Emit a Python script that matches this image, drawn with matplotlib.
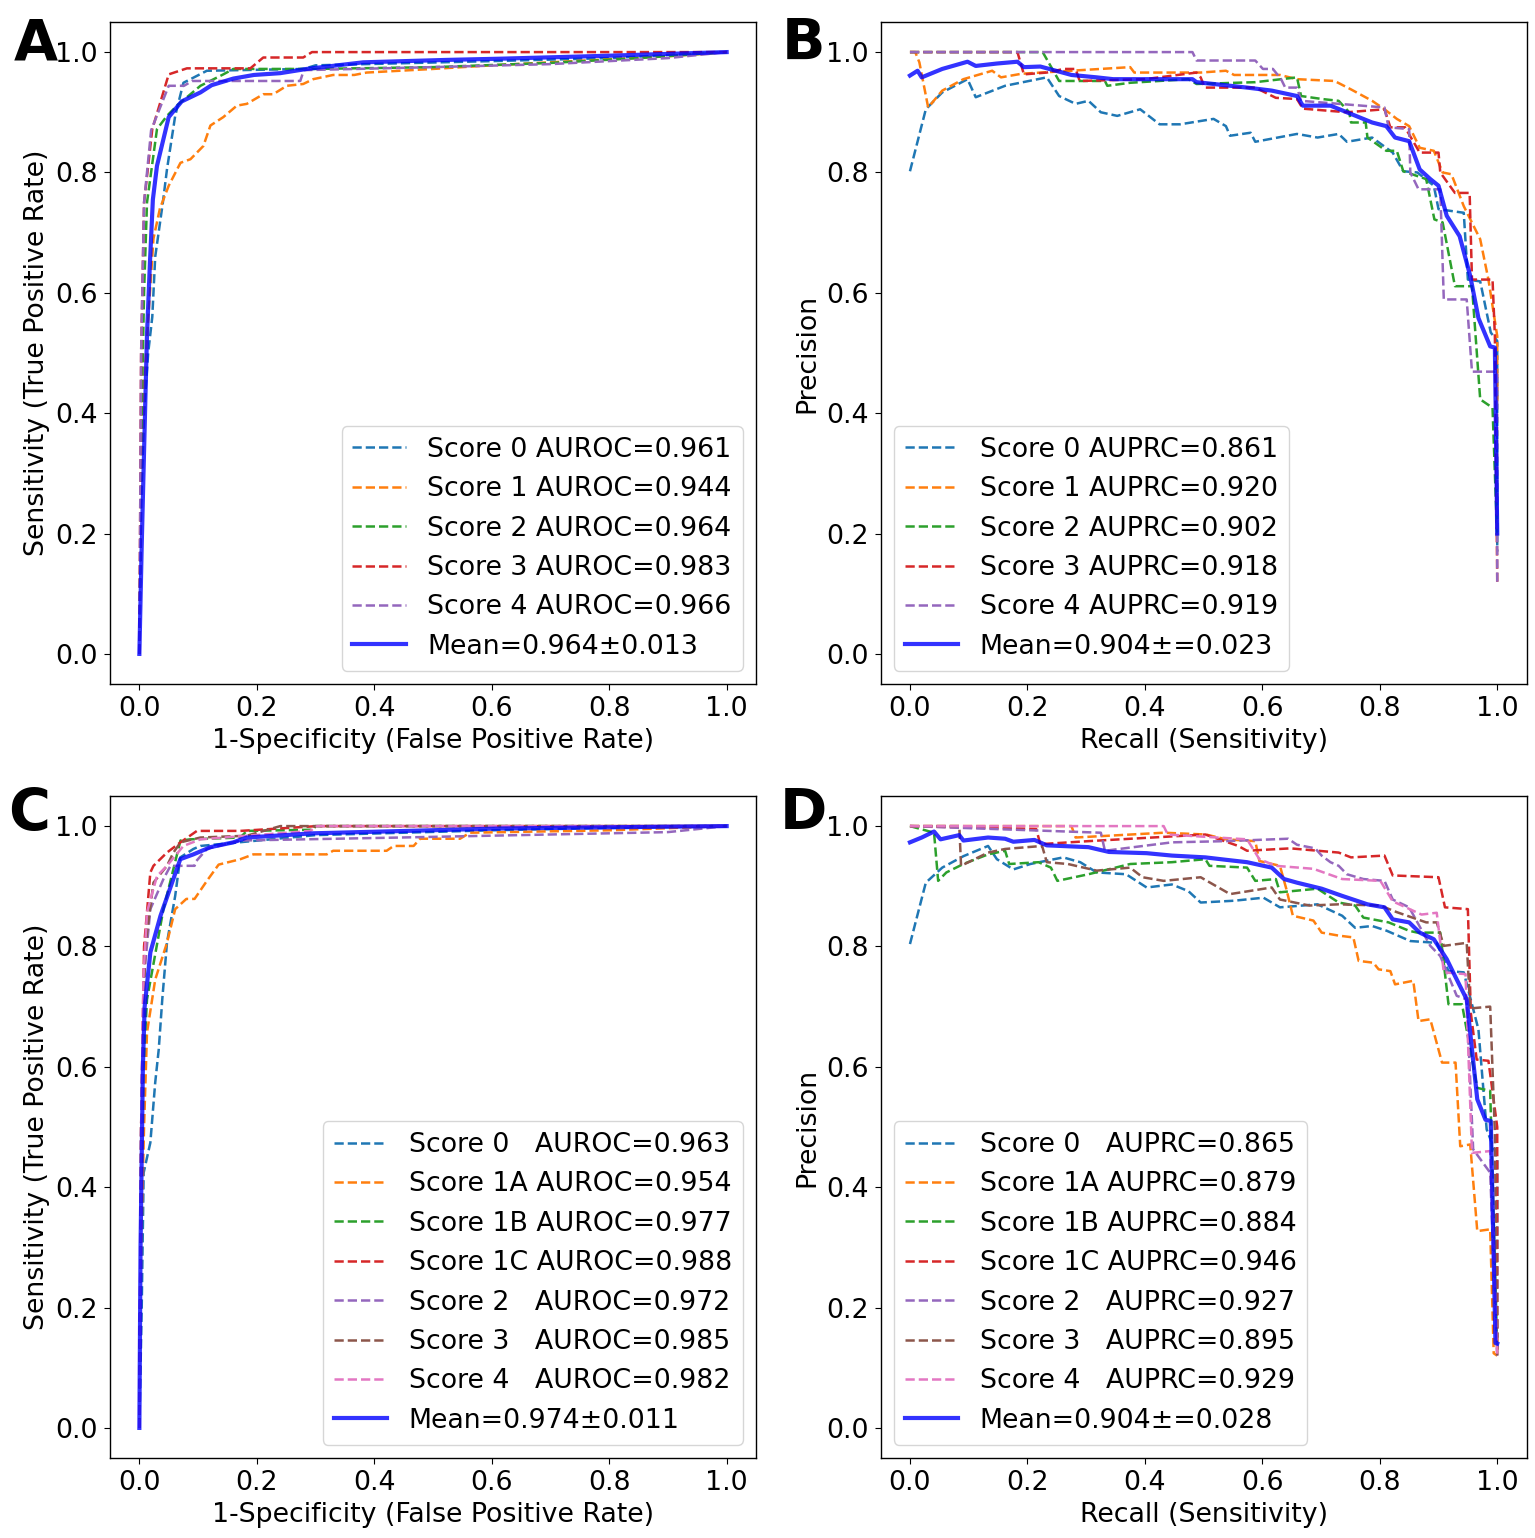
import matplotlib
matplotlib.use('Agg')
import matplotlib.pyplot as plt

plt.rcParams['font.size'] = 19.3
plt.rcParams['xtick.major.size'] = 4.4
plt.rcParams['ytick.major.size'] = 4.4
plt.rcParams['xtick.major.pad'] = 4.2
plt.rcParams['ytick.major.pad'] = 4.2
plt.rcParams['axes.linewidth'] = 1.0

# Panel A: ROC, five scores ####################################
a0_fpr = [0, 0.003, 0.008, 0.015, 0.022, 0.027, 0.04, 0.047, 0.061, 0.075, 0.115, 0.28, 0.30, 0.6, 0.8, 0.9, 1.0]
a0_tpr = [0, 0.25, 0.40, 0.50, 0.56, 0.66, 0.75, 0.805, 0.894, 0.949, 0.969, 0.972, 0.978, 0.985, 0.99, 0.995, 1.0]
a1_fpr = [0, 0.003, 0.008, 0.016, 0.024, 0.035, 0.05, 0.07, 0.087, 0.109, 0.121, 0.143, 0.166, 0.183, 0.211, 0.228,
          0.251, 0.279, 0.296, 0.33, 0.366, 0.387, 0.5, 0.6, 0.7, 0.8, 0.9, 1.0]
a1_tpr = [0, 0.30, 0.45, 0.57, 0.69, 0.74, 0.778, 0.816, 0.822, 0.844, 0.878, 0.892, 0.911, 0.914, 0.930, 0.930,
          0.944, 0.947, 0.955, 0.962, 0.962, 0.966, 0.972, 0.978, 0.983, 0.988, 0.993, 1.0]
a2_fpr = [0, 0.004, 0.008, 0.013, 0.03, 0.047, 0.064, 0.104, 0.143, 0.16, 0.3, 0.5, 0.7, 0.85, 1.0]
a2_tpr = [0, 0.4, 0.6, 0.75, 0.872, 0.894, 0.911, 0.944, 0.963, 0.972, 0.972, 0.975, 0.982, 0.99, 1.0]
a3_fpr = [0, 0.003, 0.008, 0.022, 0.05, 0.081, 0.189, 0.211, 0.279, 0.294, 1.0]
a3_tpr = [0, 0.5, 0.75, 0.872, 0.963, 0.973, 0.973, 0.991, 0.991, 1.0, 1.0]
a4_fpr = [0, 0.003, 0.008, 0.02, 0.05, 0.076, 0.09, 0.274, 0.28, 0.5, 0.7, 0.9, 1.0]
a4_tpr = [0, 0.5, 0.75, 0.87, 0.944, 0.944, 0.952, 0.952, 0.97, 0.975, 0.98, 0.99, 1.0]
am_fpr = [0, 0.004, 0.0073, 0.013, 0.018, 0.023, 0.03, 0.05, 0.072, 0.104, 0.123, 0.16, 0.195, 0.24, 0.285, 0.381,
          0.523, 0.614, 0.8, 1.0]
am_tpr = [0, 0.18, 0.31, 0.53, 0.65, 0.755, 0.811, 0.892, 0.918, 0.933, 0.945, 0.956, 0.962, 0.965, 0.972, 0.983,
          0.987, 0.989, 0.994, 1.0]
a_labels = ['Score 0 AUROC=0.961', 'Score 1 AUROC=0.944', 'Score 2 AUROC=0.964',
            'Score 3 AUROC=0.983', 'Score 4 AUROC=0.966']
a_mean_label = 'Mean=0.964±0.013'

# Panel B: PR, five scores ######################################
b0_rec = [0, 0.027, 0.055, 0.098, 0.112, 0.162, 0.233, 0.254, 0.282, 0.304, 0.325, 0.353, 0.392, 0.425, 0.46, 0.517,
          0.538, 0.545, 0.58, 0.588, 0.659, 0.694, 0.73, 0.744, 0.787, 0.822, 0.84, 0.864, 0.892, 0.9, 0.943, 0.95,
          0.971, 0.989, 1.0, 1.0]
b0_prec = [0.802, 0.905, 0.933, 0.955, 0.925, 0.944, 0.958, 0.927, 0.914, 0.919, 0.9, 0.894, 0.905, 0.88, 0.88, 0.889,
           0.877, 0.861, 0.866, 0.851, 0.864, 0.858, 0.864, 0.851, 0.858, 0.833, 0.802, 0.8, 0.778, 0.739, 0.733, 0.622,
           0.619, 0.534, 0.52, 0.17]
b1_rec = [0, 0.009, 0.016, 0.031, 0.055, 0.091, 0.14, 0.155, 0.19, 0.375, 0.382, 0.495, 0.538, 0.552, 0.63, 0.659,
          0.723, 0.751, 0.787, 0.808, 0.829, 0.85, 0.868, 0.892, 0.907, 0.922, 0.943, 0.971, 0.985, 1.0, 1.0]
b1_prec = [1.0, 1.0, 0.983, 0.908, 0.936, 0.955, 0.969, 0.958, 0.964, 0.975, 0.966, 0.966, 0.969, 0.962, 0.962, 0.955,
           0.952, 0.938, 0.919, 0.905, 0.889, 0.877, 0.841, 0.836, 0.800, 0.797, 0.744, 0.689, 0.622, 0.528, 0.42]
b2_rec = [0, 0.226, 0.254, 0.332, 0.336, 0.375, 0.474, 0.488, 0.588, 0.659, 0.666, 0.702, 0.730, 0.748, 0.751, 0.776,
          0.779, 0.811, 0.829, 0.840, 0.879, 0.893, 0.907, 0.928, 0.957, 0.971, 0.992, 1.0]
b2_prec = [1.0, 1.0, 0.952, 0.952, 0.944, 0.949, 0.955, 0.947, 0.950, 0.958, 0.927, 0.922, 0.919, 0.900, 0.883, 0.883,
           0.858, 0.836, 0.836, 0.802, 0.789, 0.722, 0.717, 0.611, 0.611, 0.423, 0.409, 0.19]
b3_rec = [0, 0.183, 0.194, 0.233, 0.262, 0.282, 0.289, 0.4, 0.488, 0.495, 0.502, 0.588, 0.623, 0.659, 0.669, 0.744,
          0.808, 0.818, 0.843, 0.868, 0.9, 0.903, 0.928, 0.953, 0.957, 0.992, 0.996, 1.0]
b3_prec = [1.0, 1.0, 0.963, 0.966, 0.972, 0.972, 0.952, 0.955, 0.966, 0.958, 0.941, 0.941, 0.924, 0.922, 0.906, 0.900,
           0.905, 0.875, 0.875, 0.833, 0.833, 0.800, 0.766, 0.766, 0.622, 0.622, 0.528, 0.12]
b4_rec = [0, 0.481, 0.488, 0.588, 0.601, 0.618, 0.632, 0.639, 0.659, 0.666, 0.808, 0.815, 0.85, 0.852, 0.866, 0.903,
          0.909, 0.948, 0.957, 0.988, 1.0, 1.0]
b4_prec = [1.0, 1.0, 0.986, 0.986, 0.972, 0.972, 0.955, 0.941, 0.941, 0.919, 0.908, 0.875, 0.872, 0.80, 0.772, 0.772,
           0.589, 0.589, 0.469, 0.469, 0.469, 0.12]
bm_rec = [0, 0.013, 0.02, 0.055, 0.098, 0.112, 0.148, 0.183, 0.194, 0.222, 0.275, 0.318, 0.346, 0.481, 0.488, 0.517,
          0.574, 0.616, 0.659, 0.669, 0.716, 0.744, 0.787, 0.811, 0.826, 0.850, 0.868, 0.886, 0.900, 0.914, 0.936,
          0.954, 0.968, 0.988, 0.996, 1.0]
bm_prec = [0.961, 0.969, 0.958, 0.972, 0.984, 0.977, 0.981, 0.984, 0.975, 0.976, 0.962, 0.958, 0.955, 0.955, 0.950,
           0.947, 0.941, 0.936, 0.927, 0.911, 0.911, 0.900, 0.883, 0.877, 0.858, 0.852, 0.805, 0.789, 0.778, 0.728,
           0.694, 0.628, 0.558, 0.511, 0.509, 0.2]
b_labels = ['Score 0 AUPRC=0.861', 'Score 1 AUPRC=0.920', 'Score 2 AUPRC=0.902',
            'Score 3 AUPRC=0.918', 'Score 4 AUPRC=0.919']
b_mean_label = 'Mean=0.904±=0.023'

# Panel C: ROC, seven scores ####################################
c0_fpr = [0, 0.004, 0.0073, 0.0187, 0.027, 0.033, 0.039, 0.047, 0.061, 0.0697, 0.092, 0.104, 0.3, 0.6, 0.8, 1.0]
c0_tpr = [0, 0.2, 0.424, 0.474, 0.574, 0.629, 0.712, 0.806, 0.884, 0.948, 0.962, 0.967, 0.985, 0.993, 0.997, 1.0]
c1_fpr = [0, 0.003, 0.008, 0.013, 0.027, 0.047, 0.061, 0.08, 0.094, 0.115, 0.135, 0.172, 0.194, 0.319, 0.33, 0.421,
          0.433, 0.467, 0.478, 0.546, 0.563, 0.8, 1.0]
c1_tpr = [0, 0.3, 0.5, 0.657, 0.745, 0.806, 0.862, 0.879, 0.879, 0.909, 0.936, 0.945, 0.953, 0.953, 0.959, 0.959,
          0.967, 0.967, 0.979, 0.979, 0.989, 0.993, 1.0]
c2_fpr = [0, 0.003, 0.007, 0.013, 0.041, 0.055, 0.07, 0.087, 0.172, 0.183, 0.296, 0.3, 1.0]
c2_tpr = [0, 0.4, 0.6, 0.712, 0.862, 0.917, 0.976, 0.978, 0.981, 0.992, 0.994, 1.0, 1.0]
c3_fpr = [0, 0.003, 0.008, 0.0187, 0.024, 0.047, 0.07, 0.098, 0.172, 0.303, 1.0]
c3_tpr = [0, 0.5, 0.8, 0.923, 0.934, 0.956, 0.973, 0.992, 0.992, 1.0, 1.0]
c4_fpr = [0, 0.003, 0.008, 0.0187, 0.041, 0.053, 0.094, 0.097, 0.115, 0.172, 0.444, 0.9, 1.0]
c4_tpr = [0, 0.5, 0.75, 0.862, 0.912, 0.934, 0.934, 0.942, 0.962, 0.976, 0.981, 0.99, 1.0]
c5_fpr = [0, 0.003, 0.01, 0.024, 0.047, 0.058, 0.07, 0.104, 0.183, 0.24, 1.0]
c5_tpr = [0, 0.5, 0.8, 0.906, 0.934, 0.956, 0.973, 0.981, 0.984, 1.0, 1.0]
c6_fpr = [0, 0.003, 0.007, 0.013, 0.03, 0.047, 0.075, 0.104, 0.291, 0.303, 1.0]
c6_tpr = [0, 0.5, 0.75, 0.857, 0.917, 0.934, 0.967, 0.978, 0.992, 1.0, 1.0]
cm_fpr = [0, 0.002, 0.006, 0.009, 0.0187, 0.036, 0.0697, 0.092, 0.121, 0.16, 0.183, 0.296, 0.614, 0.8, 1.0]
cm_tpr = [0, 0.3, 0.6, 0.7, 0.79, 0.851, 0.945, 0.953, 0.965, 0.973, 0.981, 0.988, 0.996, 0.998, 1.0]
c_labels = ['Score 0   AUROC=0.963', 'Score 1A AUROC=0.954', 'Score 1B AUROC=0.977', 'Score 1C AUROC=0.988',
            'Score 2   AUROC=0.972', 'Score 3   AUROC=0.985', 'Score 4   AUROC=0.982']
c_mean_label = 'Mean=0.974±0.011'

# Panel D: PR, seven scores #####################################
d0_rec = [0, 0.027, 0.055, 0.091, 0.133, 0.148, 0.176, 0.205, 0.261, 0.29, 0.318, 0.368, 0.403, 0.446, 0.474, 0.495,
          0.552, 0.602, 0.630, 0.694, 0.736, 0.758, 0.787, 0.812, 0.852, 0.897, 0.917, 0.943, 0.968, 0.982, 1.0, 1.0]
d0_prec = [0.804, 0.906, 0.931, 0.95, 0.967, 0.945, 0.928, 0.937, 0.948, 0.94, 0.923, 0.92, 0.898, 0.903, 0.892, 0.873,
           0.876, 0.881, 0.865, 0.870, 0.851, 0.831, 0.834, 0.826, 0.809, 0.806, 0.759, 0.757, 0.662, 0.496, 0.45, 0.15]
d1_rec = [0, 0.275, 0.282, 0.432, 0.504, 0.538, 0.588, 0.595, 0.630, 0.641, 0.652, 0.687, 0.701, 0.730, 0.755, 0.764,
          0.789, 0.798, 0.818, 0.826, 0.857, 0.866, 0.886, 0.906, 0.929, 0.937, 0.954, 0.966, 0.988, 0.994, 1.0]
d1_prec = [1.0, 1.0, 0.981, 0.989, 0.986, 0.978, 0.975, 0.942, 0.934, 0.895, 0.851, 0.843, 0.823, 0.818, 0.815, 0.776,
           0.773, 0.762, 0.759, 0.737, 0.743, 0.676, 0.679, 0.607, 0.607, 0.468, 0.471, 0.327, 0.330, 0.124, 0.12]
d2_rec = [0, 0.041, 0.048, 0.062, 0.091, 0.133, 0.162, 0.169, 0.219, 0.240, 0.251, 0.304, 0.375, 0.446, 0.503, 0.51,
          0.574, 0.588, 0.623, 0.630, 0.694, 0.730, 0.758, 0.772, 0.815, 0.850, 0.864, 0.903, 0.917, 0.94, 0.966,
          0.988, 1.0]
d2_prec = [1.0, 0.989, 0.909, 0.923, 0.937, 0.953, 0.959, 0.937, 0.940, 0.931, 0.909, 0.920, 0.937, 0.940, 0.945,
           0.934, 0.931, 0.909, 0.912, 0.890, 0.896, 0.873, 0.868, 0.848, 0.840, 0.826, 0.823, 0.823, 0.704, 0.704,
           0.565, 0.560, 0.13]
d3_rec = [0, 0.215, 0.222, 0.304, 0.503, 0.559, 0.574, 0.648, 0.730, 0.751, 0.808, 0.822, 0.900, 0.911, 0.950, 0.955,
          0.965, 0.985, 1.0, 1.0]
d3_prec = [1.0, 0.995, 0.970, 0.975, 0.986, 0.967, 0.959, 0.963, 0.956, 0.948, 0.951, 0.918, 0.915, 0.865, 0.862,
           0.69, 0.612, 0.61, 0.5, 0.13]
d4_rec = [0, 0.325, 0.332, 0.446, 0.538, 0.644, 0.659, 0.690, 0.701, 0.716, 0.730, 0.744, 0.772, 0.808, 0.822, 0.850,
          0.886, 0.903, 0.931, 0.948, 0.959, 0.988, 1.0]
d4_prec = [1.0, 0.989, 0.959, 0.973, 0.975, 0.979, 0.969, 0.963, 0.951, 0.940, 0.934, 0.920, 0.912, 0.909, 0.878,
           0.865, 0.801, 0.784, 0.718, 0.712, 0.463, 0.424, 0.12]
d5_rec = [0, 0.084, 0.087, 0.133, 0.162, 0.225, 0.233, 0.269, 0.318, 0.375, 0.396, 0.432, 0.495, 0.545, 0.616, 0.630,
          0.680, 0.730, 0.801, 0.829, 0.879, 0.897, 0.909, 0.948, 0.954, 0.988, 0.996, 1.0]
d5_prec = [1.0, 1.0, 0.934, 0.956, 0.962, 0.967, 0.940, 0.937, 0.926, 0.931, 0.915, 0.909, 0.915, 0.887, 0.898, 0.878,
           0.868, 0.870, 0.868, 0.857, 0.840, 0.840, 0.801, 0.806, 0.697, 0.700, 0.49, 0.12]
d6_rec = [0, 0.432, 0.439, 0.574, 0.595, 0.623, 0.687, 0.736, 0.801, 0.822, 0.871, 0.897, 0.909, 0.946, 0.957, 0.988,
          1.0]
d6_prec = [1.0, 1.0, 0.986, 0.978, 0.945, 0.934, 0.929, 0.912, 0.909, 0.875, 0.853, 0.856, 0.757, 0.754, 0.457, 0.460,
           0.12]
dm_rec = [0, 0.02, 0.041, 0.052, 0.084, 0.091, 0.133, 0.162, 0.176, 0.212, 0.233, 0.304, 0.339, 0.403, 0.446, 0.503,
          0.538, 0.574, 0.616, 0.637, 0.659, 0.701, 0.736, 0.779, 0.808, 0.822, 0.850, 0.868, 0.892, 0.914, 0.928,
          0.948, 0.966, 0.980, 0.989, 0.997, 1.0]
dm_prec = [0.973, 0.981, 0.991, 0.978, 0.985, 0.976, 0.981, 0.979, 0.974, 0.977, 0.968, 0.965, 0.957, 0.955, 0.951,
           0.948, 0.944, 0.940, 0.931, 0.912, 0.906, 0.896, 0.884, 0.870, 0.865, 0.845, 0.840, 0.823, 0.812, 0.779,
           0.751, 0.712, 0.546, 0.512, 0.510, 0.141, 0.14]
d_labels = ['Score 0   AUPRC=0.865', 'Score 1A AUPRC=0.879', 'Score 1B AUPRC=0.884', 'Score 1C AUPRC=0.946',
            'Score 2   AUPRC=0.927', 'Score 3   AUPRC=0.895', 'Score 4   AUPRC=0.929']
d_mean_label = 'Mean=0.904±=0.028'
#################################################################


def draw(ax, curves, labels, mean, mean_label, xlabel, ylabel, loc):
    for i, (x, y) in enumerate(curves):
        ax.plot(x, y, linestyle='--', lw=1.8, color='C%d' % i, label=labels[i])
    ax.plot(mean[0], mean[1], color='b', lw=3.0, alpha=0.8, label=mean_label)
    ax.set_xlim(-0.05, 1.05)
    ax.set_ylim(-0.05, 1.05)
    ax.set_xlabel(xlabel)
    ax.set_ylabel(ylabel)
    ax.legend(loc=loc)


fig = plt.figure(figsize=(15.35, 15.38), dpi=100)

W = 646 / 1535
H = 662 / 1538
ax_a = fig.add_axes([110 / 1535, 1 - 684 / 1538, W, H])
ax_b = fig.add_axes([880.6 / 1535, 1 - 684 / 1538, W, H])
ax_c = fig.add_axes([110 / 1535, 1 - 1458 / 1538, W, H])
ax_d = fig.add_axes([880.6 / 1535, 1 - 1458 / 1538, W, H])

roc_x = '1-Specificity (False Positive Rate)'
roc_y = 'Sensitivity (True Positive Rate)'
pr_x = 'Recall (Sensitivity)'
pr_y = 'Precision'

draw(ax_a, [(a0_fpr, a0_tpr), (a1_fpr, a1_tpr), (a2_fpr, a2_tpr), (a3_fpr, a3_tpr), (a4_fpr, a4_tpr)],
     a_labels, (am_fpr, am_tpr), a_mean_label, roc_x, roc_y, 'lower right')
draw(ax_b, [(b0_rec, b0_prec), (b1_rec, b1_prec), (b2_rec, b2_prec), (b3_rec, b3_prec), (b4_rec, b4_prec)],
     b_labels, (bm_rec, bm_prec), b_mean_label, pr_x, pr_y, 'lower left')
draw(ax_c, [(c0_fpr, c0_tpr), (c1_fpr, c1_tpr), (c2_fpr, c2_tpr), (c3_fpr, c3_tpr), (c4_fpr, c4_tpr),
            (c5_fpr, c5_tpr), (c6_fpr, c6_tpr)],
     c_labels, (cm_fpr, cm_tpr), c_mean_label, roc_x, roc_y, 'lower right')
draw(ax_d, [(d0_rec, d0_prec), (d1_rec, d1_prec), (d2_rec, d2_prec), (d3_rec, d3_prec), (d4_rec, d4_prec),
            (d5_rec, d5_prec), (d6_rec, d6_prec)],
     d_labels, (dm_rec, dm_prec), d_mean_label, pr_x, pr_y, 'lower left')

# panel letters
for letter, x, y in [('A', 14, 60), ('B', 782, 60), ('C', 8, 830), ('D', 780, 830)]:
    fig.text(x / 1535, 1 - y / 1538, letter, fontsize=41, fontweight='bold', ha='left', va='baseline')

fig.savefig('out.png', dpi=100)
